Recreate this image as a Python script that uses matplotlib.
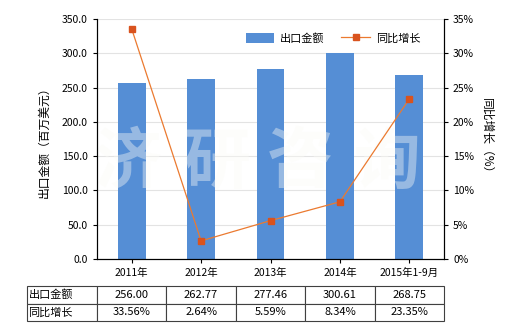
import numpy as np
import matplotlib.pyplot as plt
from matplotlib.ticker import FuncFormatter

plt.rcParams['font.family'] = ['Noto Sans CJK SC', 'DejaVu Sans']

years = ['2011年', '2012年', '2013年', '2014年', '2015年1-9月']
export_value = [256.00, 262.77, 277.46, 300.61, 268.75]
growth = [33.56, 2.64, 5.59, 8.34, 23.35]
value_labels = ['256.00', '262.77', '277.46', '300.61', '268.75']
growth_labels = ['33.56%', '2.64%', '5.59%', '8.34%', '23.35%']

bar_color = '#558ED5'
line_color = '#EB7A30'
marker_color = '#D9531E'

fig = plt.figure(figsize=(5.2, 3.3), dpi=100)
ax = fig.add_axes([97 / 520, 1 - 259 / 330, 347 / 520, 240 / 330])
x = np.arange(len(years))

ax.bar(x, export_value, width=0.4, color=bar_color, label='出口金额', zorder=2)
ax.set_ylim(0, 350)
ax.set_yticks(np.arange(0, 351, 50))
ax.yaxis.set_major_formatter(FuncFormatter(lambda v, p: '%.1f' % v))
ax.set_xlim(-0.5, len(years) - 0.5)
ax.set_xticks(x)
ax.set_xticklabels(years)
ax.grid(axis='y', color='#e3e3e3', linewidth=0.8, zorder=0)
ax.set_axisbelow(True)
ax.tick_params(labelsize=7.5, length=3, width=0.8)
ax.set_ylabel('出口金额（百万美元）', fontsize=8.5, labelpad=8)
ax.spines['top'].set_visible(False)

ax2 = ax.twinx()
ax2.plot(x, growth, color=line_color, linewidth=0.9, marker='s', markersize=4,
         markerfacecolor=marker_color, markeredgecolor=marker_color, label='同比增长', zorder=3)
ax2.set_ylim(0, 35)
ax2.set_yticks(np.arange(0, 36, 5))
ax2.yaxis.set_major_formatter(FuncFormatter(lambda v, p: '%d%%' % v))
ax2.tick_params(labelsize=7.5, length=3, width=0.8)
ax2.set_ylabel('同比增长（%）', fontsize=8.5, rotation=270, labelpad=14)
ax2.spines['top'].set_visible(False)

# watermark
for ch, xc in zip('济研咨询', [0.089, 0.346, 0.585, 0.836]):
    ax.text(xc, 0.40, ch, transform=ax.transAxes, fontsize=48, color='#fbfbf6',
            alpha=0.4, ha='center', va='center', fontweight='bold', zorder=2.5)

h1, l1 = ax.get_legend_handles_labels()
h2, l2 = ax2.get_legend_handles_labels()
ax2.legend(h1 + h2, l1 + l2, loc='upper right', bbox_to_anchor=(0.96, 0.985), ncol=2,
           frameon=False, fontsize=8, handlelength=2.6, handleheight=1.1,
           handletextpad=0.5, columnspacing=1.5)

cells = [['出口金额'] + value_labels, ['同比增长'] + growth_labels]
w0 = 70 / 417
wc = (1 - w0) / len(years)
tbl = ax.table(cellText=cells, colWidths=[w0] + [wc] * len(years),
               bbox=[-70 / 347, -62 / 240, 417 / 347, 35 / 240], cellLoc='center')
tbl.auto_set_font_size(False)
tbl.set_fontsize(8)
for (r, c), cell in tbl.get_celld().items():
    cell.set_edgecolor('#404040')
    cell.set_linewidth(0.8)
    if c == 0:
        cell.set_text_props(ha='left')
        cell.PAD = 0.02

fig.savefig('out.png', dpi=100)
